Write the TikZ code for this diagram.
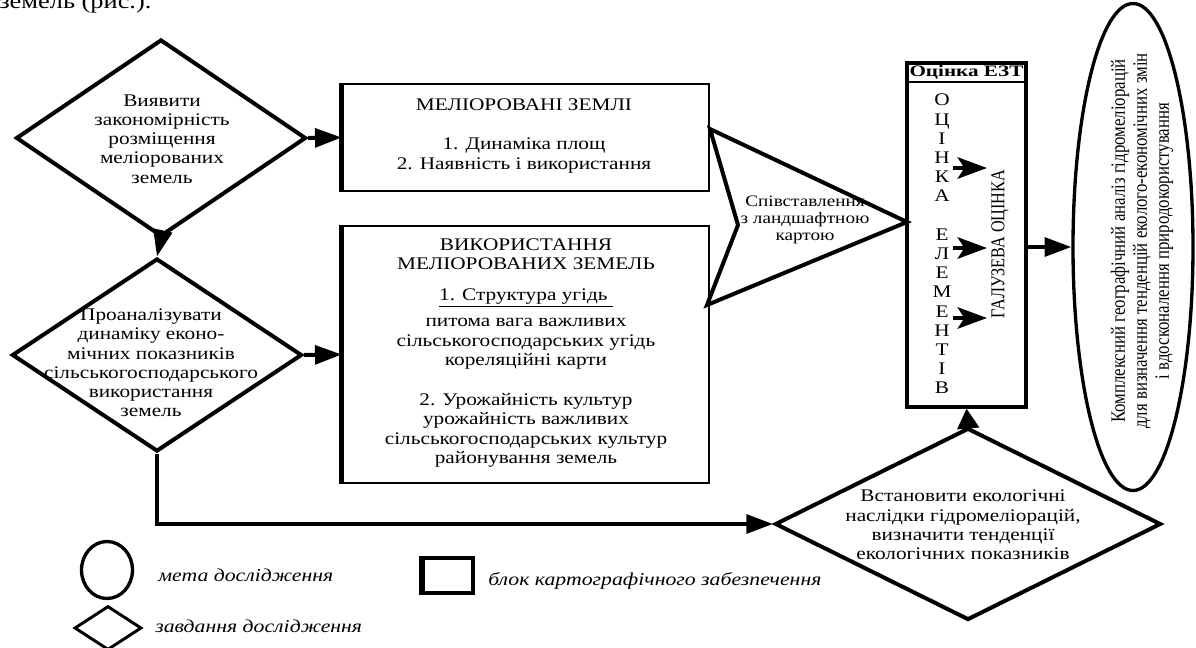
\documentclass[tikz,border=0pt]{standalone}
\usepackage{fontspec}
\usepackage{graphicx}
\setmainfont{Liberation Serif}[FakeStretch=1.2]
\newfontfamily\gfont{Liberation Serif}[FakeStretch=0.83]
\usetikzlibrary{arrows.meta,shapes.geometric}
\begin{document}
\begin{tikzpicture}[x=0.75pt,y=-0.75pt,line join=miter,
  dia/.style={diamond,draw,line width=3pt,inner sep=0pt},
  txt/.style={align=center,inner sep=0pt,font=\fontsize{13.3}{14.4}\selectfont},
  boxn/.style={draw,line width=2pt,inner sep=0pt},
  thickleft/.style={line width=3.6pt},
  conn/.style={line width=3pt,-{Triangle[length=20pt,width=14pt]}},
  smallarr/.style={line width=3pt,-{Stealth[length=22pt,width=16pt,inset=5pt]}},
  legtxt/.style={anchor=west,inner sep=0pt,font=\fontsize{13.6}{14}\itshape}]
\useasboundingbox (0,0) rectangle (1196,647);
% cut-off line of the page text
\node[anchor=base west,inner sep=0pt,font=\fontsize{16.5}{16}\selectfont] (toptxt) at (-1,8) {земель (рис.).};

% diamonds (tasks)
\node[dia,minimum width=290*0.75pt,minimum height=197*0.75pt] (d1) at (161,138) {};
\node[txt] (t1) at (162,139) {Виявити\\закономірність\\розміщення\\меліорованих\\земель};
\node[dia,minimum width=290*0.75pt,minimum height=193*0.75pt] (d2) at (157,355) {};
\node[txt] (t2) at (151,363) {Проаналізувати\\динаміку еконо-\\мічних показників\\сільськогосподарського\\використання\\земель};
\node[dia,minimum width=386*0.75pt,minimum height=192*0.75pt] (d3) at (968,524) {};
\node[txt] (t3) at (963,525) {Встановити екологічні\\наслідки гідромеліорацій,\\визначити тенденції\\екологічних показників};

% boxes
\node[boxn,minimum width=366*0.75pt,minimum height=107*0.75pt] (b1) at (526,137.5) {};
\draw[thickleft] (b1.south west) -- (b1.north west);
\node[txt] (tb1) at (524,136) {МЕЛІОРОВАНІ ЗЕМЛІ\\[15pt]1. Динаміка площ\\2. Наявність і використання};
\node[boxn,minimum width=366*0.75pt,minimum height=257*0.75pt] (b2) at (526,354.5) {};
\draw[thickleft] (b2.south west) -- (b2.north west);
\node[txt] (tb2) at (526,353) {ВИКОРИСТАННЯ\\МЕЛІОРОВАНИХ ЗЕМЕЛЬ\\[9pt]\underline{1. Структура угідь }\\[5pt]питома вага важливих\\сільськогосподарських угідь\\кореляційні карти\\[16pt]2. Урожайність культур\\урожайність важливих\\сільськогосподарських культур\\районування земель};

% ezt box
\node[draw,line width=2.3pt,inner sep=0pt,minimum width=119*0.75pt,minimum height=344*0.75pt] (ezt) at (966.5,235) {};
\node[inner sep=0pt,font=\fontsize{12}{12}\bfseries] (hdr) at (966.5,72) {\scalebox{1.1}[1]{Оцінка ЕЗТ}};
\coordinate (hl) at (907,82);
\coordinate (hr) at (1026,82);
\draw[line width=1.5pt] (hl) -- (hr);
\node[align=center,inner sep=0pt,font=\fontsize{13.3}{14.4}\selectfont] (lett) at (942,244) {О\\Ц\\І\\Н\\К\\А\\[14.4pt]Е\\Л\\Е\\М\\Е\\Н\\Т\\І\\В};
\node[rotate=90,inner sep=0pt,font=\gfont\fontsize{14.7}{15}\selectfont] (gal) at (1000,244) {ГАЛУЗЕВА ОЦІНКА};
\coordinate (s1) at (953,168); \coordinate (e1) at (987,168);
\coordinate (s2) at (953,248); \coordinate (e2) at (987,248);
\coordinate (s3) at (953,318); \coordinate (e3) at (987,318);
\draw[smallarr] (s1) -- (e1);
\draw[smallarr] (s2) -- (e2);
\draw[smallarr] (s3) -- (e3);

% comparison chevron
\coordinate (c1) at (710,129);
\coordinate (c2) at (907,222);
\coordinate (c3) at (707,305);
\coordinate (c4) at (738,225);
\draw[line width=3pt] (c1) -- (c2) -- (c3) -- (c4) -- cycle;
\node[align=center,inner sep=0pt,font=\fontsize{12}{12.8}\selectfont] (cmp) at (805,220) {Співставлення\\з ландшафтною\\картою};

% goal ellipse
\node[ellipse,draw,line width=2.5pt,inner sep=0pt,minimum width=120*0.75pt,minimum height=487*0.75pt] (goal) at (1133,247) {};
\node[rotate=90,align=center,inner sep=0pt,font=\gfont\fontsize{15.2}{16.5}\selectfont] (gt) at (1142,241) {Комплексний географічний аналіз гідромеліорацій\\для визначення тенденцій еколого-економічних змін\\і вдосконалення природокористування};

% connectors
\draw[conn] (d1.south) -- (d2.north);
\draw[conn] (d1.east) -- (b1.west);
\draw[conn] (d2.east) -- (b2.west);
\draw[conn] (d2.south) |- (d3.west);
\draw[line width=3pt,-{Triangle[length=15pt,width=16pt]}] (d3.north) -- (ezt.south);
\draw[conn] (goal.west -| ezt.east) -- (goal.west);

% legend
\node[ellipse,draw,line width=2.5pt,inner sep=0pt,minimum width=51*0.75pt,minimum height=57*0.75pt] (lgE) at (107,570) {};
\node[legtxt] (lgEt) at (158,575) {мета дослідження};
\node[diamond,draw,line width=2.2pt,inner sep=0pt,minimum width=67*0.75pt,minimum height=44*0.75pt] (lgD) at (108,628) {};
\node[legtxt] (lgDt) at (155,626) {завдання дослідження};
\node[draw,line width=2.6pt,inner sep=0pt,minimum width=50*0.75pt,minimum height=35*0.75pt] (lgB) at (448,575.5) {};
\draw[thickleft] (lgB.south west) -- (lgB.north west);
\node[legtxt] (lgBt) at (488,581) {блок картографічного забезпечення};
\end{tikzpicture}
\end{document}
